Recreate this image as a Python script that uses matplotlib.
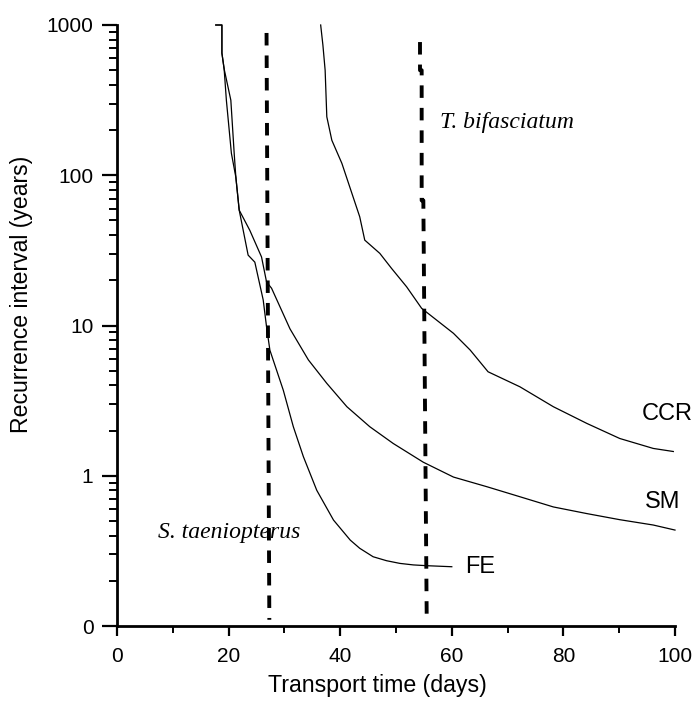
import numpy as np
import matplotlib
matplotlib.use('Agg')
import matplotlib.pyplot as plt
from matplotlib.ticker import LogLocator, NullFormatter, FixedLocator

plt.rcParams['font.family'] = ['Liberation Sans', 'DejaVu Sans']
plt.rcParams['lines.scale_dashes'] = False

# curves (days, years)
fe_days = [17.7, 18.8, 18.8, 19.2, 19.6, 20.5, 21.3, 21.9, 23.5, 24.7, 26.2, 26.8, 27.4, 29.8,
           31.6, 33.4, 35.8, 38.8, 41.8, 43.5, 45.9, 48.3, 50.7, 53.1, 55.5, 60.0]
fe_years = [1000, 1000, 650, 510, 316, 140, 97, 58.6, 29.4, 26.4, 14.8, 9.8, 6.85, 3.71,
            2.12, 1.34, 0.80, 0.507, 0.373, 0.329, 0.289, 0.272, 0.261, 0.255, 0.252, 0.248]

sm_days = [17.7, 18.8, 18.8, 19.2, 20.4, 21.0, 21.3, 21.9, 23.8, 25.9, 26.8, 27.7, 31.0, 34.3,
           37.6, 41.2, 45.3, 49.5, 54.9, 60.3, 66.3, 72.2, 78.2, 84.2, 90.1, 96.1, 100.0]
sm_years = [1000, 1000, 650, 510, 316, 140, 97, 58.6, 43, 28.6, 19.5, 17.7, 9.5, 5.9,
            4.12, 2.88, 2.12, 1.64, 1.23, 0.98, 0.845, 0.725, 0.62, 0.56, 0.51, 0.47, 0.435]

ccr_days = [36.5, 36.9, 37.3, 37.6, 38.5, 40.3, 42.1, 43.5, 44.4, 47.1, 49.2, 51.9, 54.6,
            60.3, 63.3, 66.5, 72.2, 78.2, 84.2, 90.1, 96.1, 99.7]
ccr_years = [1000, 735, 500, 245, 171, 120, 75.7, 52.9, 37, 30.2, 24, 18.1, 13,
             8.87, 6.86, 4.92, 3.91, 2.88, 2.23, 1.77, 1.52, 1.45]

# species thresholds (dashed)
st_days = [26.8, 27.3]
st_years = [885, 0.11]
tb_days = [54.3, 54.3, 54.6, 54.6, 54.9, 55.5]
tb_years = [770, 500, 500, 68, 68, 0.118]

ytick_vals = [0.1, 1, 10, 100, 1000]
ytick_labels = ['0', '1', '10', '100', '1000']
xtick_vals = [0, 20, 40, 60, 80, 100]

fig = plt.figure(figsize=(6.99, 7.06), dpi=100)
ax = fig.add_axes([117/699, 1-626/706, (675-117)/699, (626-25)/706])

for d, y in [(fe_days, fe_years), (sm_days, sm_years), (ccr_days, ccr_years)]:
    ax.plot(d, y, color='black', lw=0.9, clip_on=False)

ax.plot(st_days, st_years, color='black', lw=2.8, dashes=(9, 7.2))
ax.plot(tb_days, tb_years, color='black', lw=2.8, dashes=(9, 7.2))

ax.set_yscale('log')
ax.set_xlim(0, 100)
ax.set_ylim(0.1, 1000)

ax.yaxis.set_major_locator(FixedLocator(ytick_vals))
ax.set_yticklabels(ytick_labels)
ax.yaxis.set_minor_locator(LogLocator(base=10, subs=range(2, 10)))
ax.yaxis.set_minor_formatter(NullFormatter())
ax.set_xticks(xtick_vals)
ax.set_xticks([10, 30, 50, 70, 90], minor=True)

for s in ['top', 'right']:
    ax.spines[s].set_visible(False)
for s in ['left', 'bottom']:
    ax.spines[s].set_linewidth(2)

ax.tick_params(axis='y', which='major', length=11, width=1.6, pad=6, labelsize=15)
ax.tick_params(axis='y', which='minor', length=5.5, width=1.4)
ax.tick_params(axis='x', which='major', length=7, width=1.6, pad=8, labelsize=15)
ax.tick_params(axis='x', which='minor', length=5, width=1.4)

ax.set_xlabel('Transport time (days)', fontsize=16.7)
ax.set_ylabel('Recurrence interval (years)', fontsize=16.6)
ax.xaxis.set_label_coords(0.466, -0.08)
ax.yaxis.set_label_coords(-0.1505, 0.551)

ax.text(94.1, 2.59, 'CCR', fontsize=17, va='center', ha='left')
ax.text(94.6, 0.668, 'SM', fontsize=17, va='center', ha='left')
ax.text(62.4, 0.247, 'FE', fontsize=17, va='center', ha='left')
ax.text(7.3, 0.42, 'S. taeniopterus', fontsize=17, style='italic',
        family=['Liberation Serif', 'DejaVu Serif'], va='center', ha='left')
ax.text(57.9, 225, 'T. bifasciatum', fontsize=17, style='italic',
        family=['Liberation Serif', 'DejaVu Serif'], va='center', ha='left')

plt.savefig('out.png', dpi=100)
